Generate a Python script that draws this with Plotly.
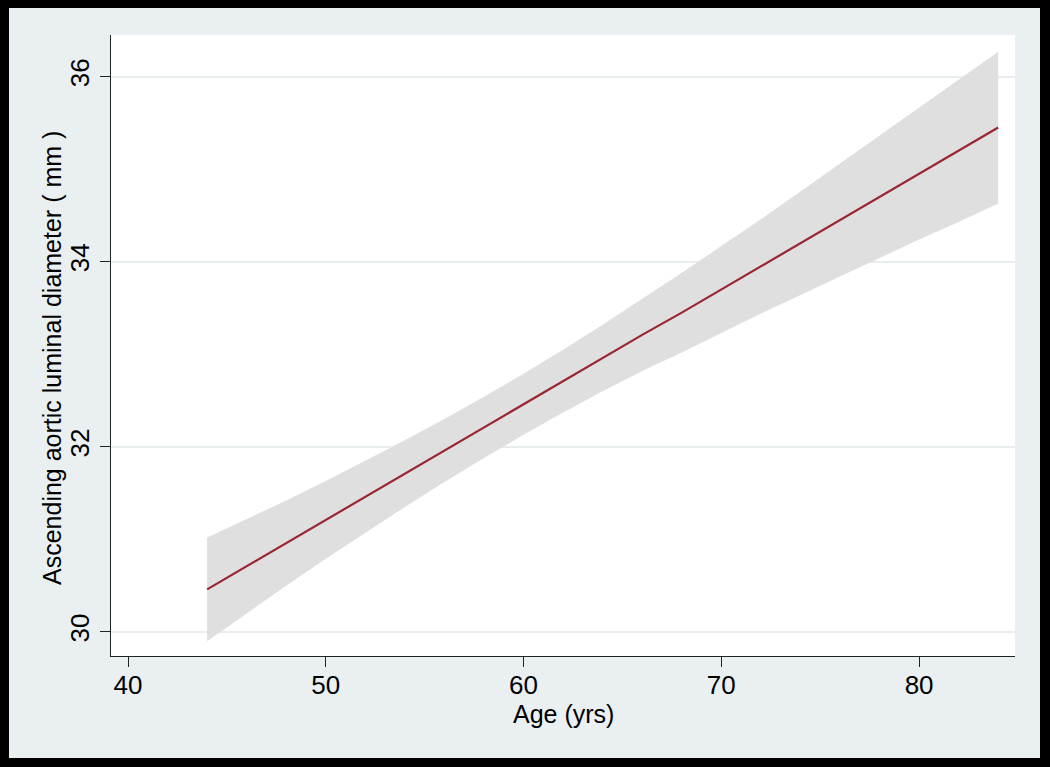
import plotly.graph_objects as go

# Data
age = [44, 46, 48, 50, 52, 54, 56, 58, 60, 62, 64, 66, 68, 70, 72, 74, 76, 78, 80, 82, 84]
fit = [30.46, 30.71, 30.96, 31.21, 31.46, 31.71, 31.96, 32.21, 32.46, 32.71, 32.96,
       33.21, 33.45, 33.70, 33.95, 34.20, 34.45, 34.70, 34.95, 35.20, 35.45]
upper = [31.02, 31.22, 31.42, 31.63, 31.85, 32.07, 32.30, 32.54, 32.79, 33.05, 33.32,
         33.60, 33.88, 34.17, 34.46, 34.76, 35.06, 35.36, 35.66, 35.97, 36.27]
lower = [29.90, 30.20, 30.50, 30.79, 31.07, 31.35, 31.62, 31.88, 32.13, 32.37, 32.60,
         32.82, 33.02, 33.23, 33.44, 33.64, 33.84, 34.04, 34.24, 34.43, 34.63]
x_ticks = [40, 50, 60, 70, 80]
y_ticks = [30, 32, 34, 36]

W, H = 1050, 767
L, R, T, B = 111, 35, 35, 111
pw, ph = W - L - R, H - T - B

fig = go.Figure()
fig.add_trace(go.Scatter(
    x=age + age[::-1], y=upper + lower[::-1],
    fill="toself", fillcolor="#DFDFDF", line=dict(width=0),
    mode="lines", hoverinfo="skip", showlegend=False))
fig.add_trace(go.Scatter(
    x=age, y=fit, mode="lines",
    line=dict(color="#9A2630", width=2.2), showlegend=False))

# outer light region (inside black frame)
fx0, fx1 = (9 - L) / pw, (1040 - L) / pw
fy0, fy1 = (H - B - 758) / ph, (H - B - 8) / ph
fig.add_shape(type="rect", xref="paper", yref="paper", x0=fx0, x1=fx1, y0=fy0, y1=fy1,
              fillcolor="#EAF0F2", line=dict(width=0), layer="below")
fig.add_shape(type="rect", xref="paper", yref="paper", x0=0, x1=1, y0=0, y1=1,
              fillcolor="white", line=dict(width=0), layer="below")

font = "Arial, Liberation Sans, sans-serif"
fig.add_annotation(text="Ascending aortic luminal diameter ( mm )", textangle=-90,
                   xref="paper", yref="paper", x=(52 - L) / pw, y=(H - B - 358) / ph,
                   xanchor="center", yanchor="middle", showarrow=False,
                   font=dict(size=25, family=font, color="black"))
fig.add_annotation(text="Age (yrs)",
                   xref="paper", yref="paper", x=0.5, y=(H - B - 714) / ph,
                   xanchor="center", yanchor="middle", showarrow=False,
                   font=dict(size=25, family=font, color="black"))

fig.update_layout(
    width=W, height=H,
    margin=dict(l=L, r=R, t=T, b=B),
    paper_bgcolor="black", plot_bgcolor="white",
    font=dict(family=font, color="black"),
    xaxis=dict(range=[39.14, 84.85], tickvals=x_ticks, showgrid=False, zeroline=False,
               showline=True, linecolor="#222", linewidth=1.3,
               ticks="outside", ticklen=10, tickcolor="#222", tickwidth=1.3,
               ticklabelstandoff=-4,
               tickfont=dict(size=26)),
    yaxis=dict(range=[29.74, 36.45], tickvals=y_ticks, showgrid=True, gridcolor="#E6EEF0",
               gridwidth=2, zeroline=False,
               showline=True, linecolor="#222", linewidth=1.3,
               ticks="outside", ticklen=10, tickcolor="#222", tickwidth=1.3, tickangle=-90,
               tickfont=dict(size=26)),
)

fig.write_html("out.html", config={"displayModeBar": False},
               post_script="document.body.style.margin='0';document.body.style.background='black';")
